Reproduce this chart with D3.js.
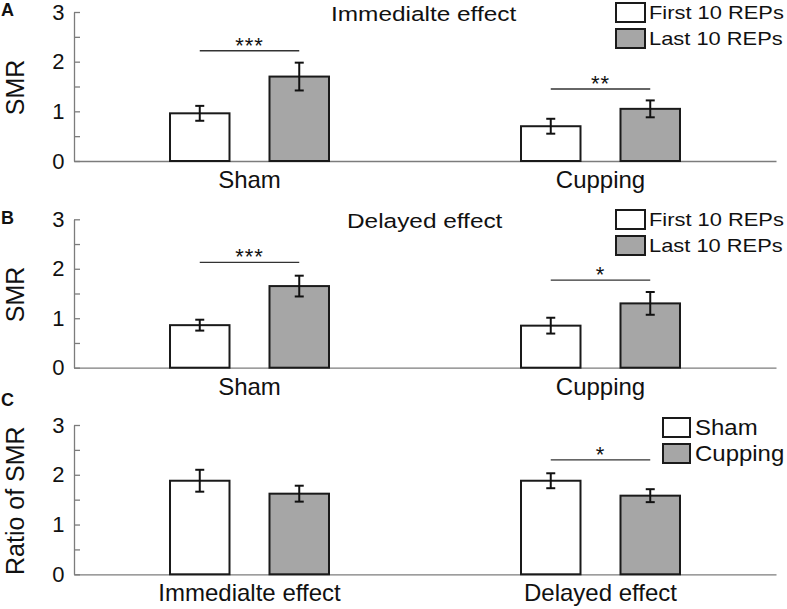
<!DOCTYPE html>
<html><head><meta charset="utf-8">
<script src="https://cdn.jsdelivr.net/npm/d3@7"></script>
<style>
body{margin:0;background:#fff}
svg{display:block}
text{font-family:"Liberation Sans",Arial,Helvetica,sans-serif}
</style>
</head><body>
<svg id="chart" width="787" height="609"></svg>
<script>
// ---------- data ----------
const groupCats = ["Sham", "Cupping"];
const repSeries = ["First 10 REPs", "Last 10 REPs"];

const immFirst = [0.96, 0.70];
const immFirstErr = [0.15, 0.15];
const immLast = [1.70, 1.05];
const immLastErr = [0.28, 0.17];
const immSig = ["***", "**"];
const immSigY = [2.22, 1.45];

const delFirst = [0.86, 0.85];
const delFirstErr = [0.11, 0.16];
const delLast = [1.65, 1.30];
const delLastErr = [0.21, 0.23];
const delSig = ["***", "*"];
const delSigY = [2.13, 1.77];

const effectCats = ["Immedialte effect", "Delayed effect"];
const groupSeries = ["Sham", "Cupping"];
const ratioSham = [1.88, 1.88];
const ratioShamErr = [0.22, 0.15];
const ratioCup = [1.62, 1.58];
const ratioCupErr = [0.16, 0.13];
const ratioSig = [null, "*"];
const ratioSigY = [null, 2.30];

const yTickValues = [0, 0.5, 1, 1.5, 2, 2.5, 3];
const yTickLabels = ["0", "", "1", "", "2", "", "3"];

// ---------- layout ----------
const svg = d3.select("#chart");
const FILLS = ["#ffffff", "#a6a6a6"];
const AXIS_COLOR = "#7c7c7c";

const panels = [
  { letter: "A", letterY: 16, cats: groupCats, series: repSeries,
    a: immFirst, aErr: immFirstErr, b: immLast, bErr: immLastErr,
    sig: immSig, sigY: immSigY, y0: 161, y3: 12, ylabel: "SMR",
    title: "Immedialte effect", titleX: 331, titleY: 21,
    legend: { boxX: 616, boxW: 29, y: 3, textX: 649, font: 17.5, sx: 1.25 } },
  { letter: "B", letterY: 224, cats: groupCats, series: repSeries,
    a: delFirst, aErr: delFirstErr, b: delLast, bErr: delLastErr,
    sig: delSig, sigY: delSigY, y0: 367.7, y3: 219.3, ylabel: "SMR",
    title: "Delayed effect", titleX: 347, titleY: 228,
    legend: { boxX: 616, boxW: 29, y: 210, textX: 649, font: 17.5, sx: 1.25 } },
  { letter: "C", letterY: 406, cats: effectCats, series: groupSeries,
    a: ratioSham, aErr: ratioShamErr, b: ratioCup, bErr: ratioCupErr,
    sig: ratioSig, sigY: ratioSigY, y0: 574.3, y3: 425, ylabel: "Ratio of SMR",
    title: null,
    legend: { boxX: 663, boxW: 27, y: 418, textX: 695, font: 22, sx: 1.09 } }
];

panels.forEach(p => {
  const g = svg.append("g");
  const y = d3.scaleLinear().domain([0, 3]).range([p.y0, p.y3]);
  const x = d3.scaleBand().domain(p.cats).range([74, 776]);
  const xi = d3.scaleBand().domain(p.series).range([0, x.bandwidth()])
    .paddingInner(0.402).paddingOuter(0.965);

  // x axis
  g.append("g").attr("transform", `translate(0,${p.y0})`)
    .call(d3.axisBottom(x).tickSize(0).tickPadding(10))
    .call(a => {
      a.attr("font-family", null).attr("font-size", null);
      a.select(".domain").attr("stroke", AXIS_COLOR).attr("stroke-width", 1.3);
      a.selectAll("text").attr("font-size", 24).attr("fill", "#111");
    });

  // y axis
  g.append("g").attr("transform", "translate(74,0)")
    .call(d3.axisLeft(y).tickValues(yTickValues)
      .tickFormat((d, i) => yTickLabels[i])
      .tickSizeInner(-6).tickSizeOuter(0).tickPadding(9.5))
    .call(a => {
      a.attr("font-family", null).attr("font-size", null);
      a.select(".domain").attr("stroke", AXIS_COLOR).attr("stroke-width", 1.3);
      a.selectAll(".tick line").attr("stroke", AXIS_COLOR).attr("stroke-width", 1.3);
      a.selectAll("text").attr("font-size", 22).attr("fill", "#111");
    });

  // y label
  g.append("text")
    .attr("transform", `translate(24,${(p.y0 + p.y3) / 2 + 1}) rotate(-90)`)
    .attr("text-anchor", "middle").attr("font-size", 25).attr("fill", "#111")
    .text(p.ylabel);

  // data rows
  const rows = p.cats.map((c, i) => ({
    cat: c,
    vals: [
      { s: p.series[0], v: p.a[i], e: p.aErr[i], k: 0 },
      { s: p.series[1], v: p.b[i], e: p.bErr[i], k: 1 }
    ],
    sig: p.sig[i], sigY: p.sigY[i]
  }));

  const grp = g.selectAll(".grp").data(rows).join("g")
    .attr("transform", d => `translate(${x(d.cat)},0)`);

  // bars
  grp.selectAll("rect").data(d => d.vals).join("rect")
    .attr("x", d => xi(d.s)).attr("width", xi.bandwidth())
    .attr("y", d => y(d.v)).attr("height", d => p.y0 - y(d.v))
    .attr("fill", d => FILLS[d.k]).attr("stroke", "#1a1a1a").attr("stroke-width", 2);

  // error bars
  const eb = grp.selectAll(".eb").data(d => d.vals).join("g")
    .attr("transform", d => `translate(${xi(d.s) + xi.bandwidth() / 2},0)`)
    .attr("stroke", "#111").attr("stroke-width", 2);
  eb.append("line").attr("y1", d => y(d.v + d.e)).attr("y2", d => y(d.v - d.e));
  eb.append("line").attr("x1", -4.5).attr("x2", 4.5)
    .attr("y1", d => y(d.v + d.e)).attr("y2", d => y(d.v + d.e));
  eb.append("line").attr("x1", -4.5).attr("x2", 4.5)
    .attr("y1", d => y(d.v - d.e)).attr("y2", d => y(d.v - d.e));

  // significance
  const sg = grp.filter(d => d.sig);
  sg.append("line")
    .attr("x1", xi(p.series[0]) + xi.bandwidth() / 2)
    .attr("x2", xi(p.series[1]) + xi.bandwidth() / 2)
    .attr("y1", d => y(d.sigY)).attr("y2", d => y(d.sigY))
    .attr("stroke", "#333").attr("stroke-width", 1.3);
  sg.append("text")
    .attr("x", (xi(p.series[0]) + xi(p.series[1]) + xi.bandwidth()) / 2)
    .attr("y", d => y(d.sigY) + 2)
    .attr("text-anchor", "middle").attr("font-size", 22)
    .attr("letter-spacing", 1).attr("fill", "#111")
    .text(d => d.sig);

  // title
  if (p.title) {
    g.append("text")
      .attr("transform", `translate(${p.titleX},${p.titleY}) scale(1.19,1)`)
      .attr("font-size", 20.5).attr("fill", "#111").text(p.title);
  }

  // legend
  const L = p.legend;
  const lg = g.selectAll(".lg").data(p.series).join("g")
    .attr("transform", (d, i) => `translate(0,${L.y + i * 26})`);
  lg.append("rect").attr("x", L.boxX).attr("y", 0).attr("width", L.boxW).attr("height", 19)
    .attr("fill", (d, i) => FILLS[i]).attr("stroke", "#1a1a1a").attr("stroke-width", 2);
  lg.append("text")
    .attr("transform", `translate(${L.textX},${L.font === 22 ? 17 : 15.5}) scale(${L.sx},1)`)
    .attr("font-size", L.font).attr("fill", "#111").text(d => d);

  // panel letter
  g.append("text").attr("x", 1).attr("y", p.letterY)
    .attr("font-size", 18).attr("font-weight", "bold").attr("fill", "#111")
    .text(p.letter);
});
</script>
</body></html>
